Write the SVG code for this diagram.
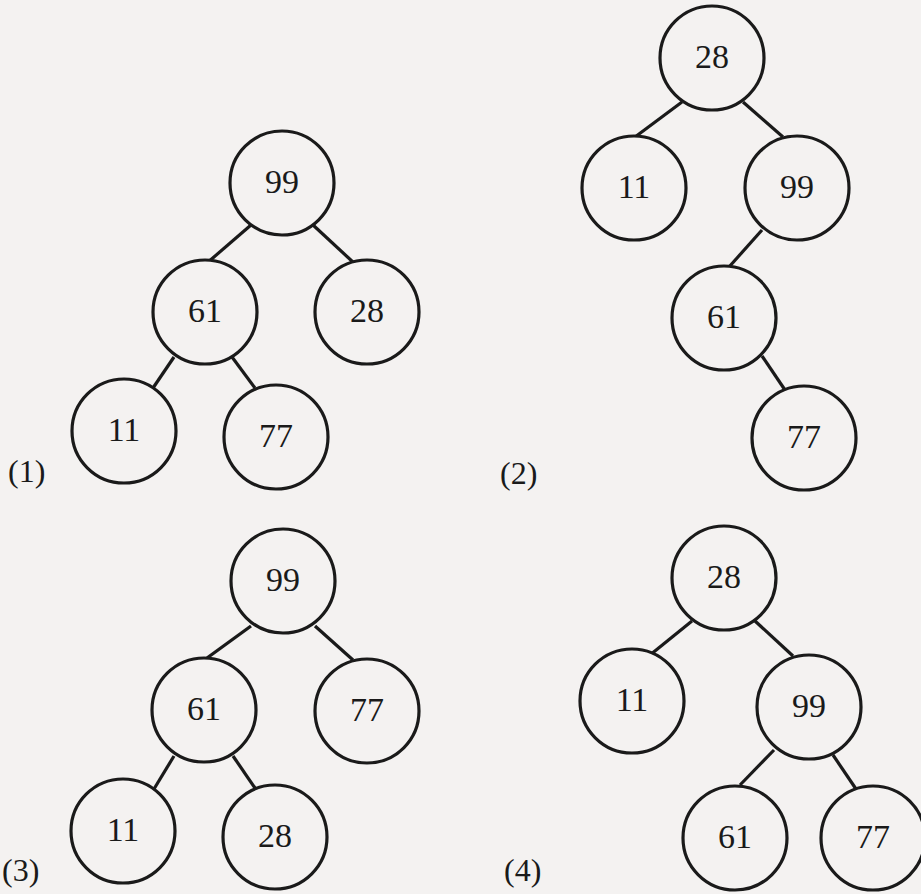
<svg xmlns="http://www.w3.org/2000/svg" width="921" height="894" viewBox="0 0 921 894" font-family="'Liberation Serif', 'DejaVu Serif', serif" font-size="34">
<style>
.bg{fill:#f4f2f1}
.n circle{fill:#f4f2f1;stroke:#1a1a1a;stroke-width:3.2}
.n text{text-anchor:middle;fill:#1a1a1a}
.lbl{fill:#1a1a1a}
.e line{stroke:#1a1a1a;stroke-width:3.2}
</style>
<rect class="bg" x="0" y="0" width="921" height="894"/>
<g id="connectors" class="e">
<line x1="251" y1="225" x2="207" y2="263"/>
<line x1="313" y1="225" x2="354" y2="263"/>
<line x1="174" y1="357" x2="153" y2="388"/>
<line x1="232" y1="357" x2="255" y2="388"/>
<line x1="682" y1="102" x2="635" y2="137"/>
<line x1="743" y1="102" x2="783" y2="137"/>
<line x1="762" y1="230" x2="729" y2="267"/>
<line x1="762" y1="356" x2="785" y2="390"/>
<line x1="251" y1="626" x2="207" y2="658"/>
<line x1="315" y1="626" x2="353" y2="660"/>
<line x1="174" y1="756" x2="154" y2="789"/>
<line x1="233" y1="756" x2="255" y2="788"/>
<line x1="692" y1="621" x2="650" y2="655"/>
<line x1="755" y1="621" x2="793" y2="656"/>
<line x1="774" y1="750" x2="740" y2="785"/>
<line x1="833" y1="755" x2="856" y2="789"/>
</g>
<g id="t1-99" class="n"><circle cx="282" cy="183" r="52"/><text x="282" y="193">99</text></g>
<g id="t1-61" class="n"><circle cx="205" cy="312" r="52"/><text x="205" y="322">61</text></g>
<g id="t1-28" class="n"><circle cx="367" cy="312" r="52"/><text x="367" y="322">28</text></g>
<g id="t1-11" class="n"><circle cx="124" cy="431" r="52"/><text x="124" y="441">11</text></g>
<g id="t1-77" class="n"><circle cx="276" cy="437" r="52"/><text x="276" y="447">77</text></g>
<g id="t2-28" class="n"><circle cx="712" cy="58" r="52"/><text x="712" y="68">28</text></g>
<g id="t2-11" class="n"><circle cx="634" cy="188" r="52"/><text x="634" y="198">11</text></g>
<g id="t2-99" class="n"><circle cx="797" cy="188" r="52"/><text x="797" y="198">99</text></g>
<g id="t2-61" class="n"><circle cx="724" cy="318" r="52"/><text x="724" y="328">61</text></g>
<g id="t2-77" class="n"><circle cx="804" cy="438" r="52"/><text x="804" y="448">77</text></g>
<g id="t3-99" class="n"><circle cx="283" cy="581" r="52"/><text x="283" y="591">99</text></g>
<g id="t3-61" class="n"><circle cx="204" cy="710" r="52"/><text x="204" y="720">61</text></g>
<g id="t3-77" class="n"><circle cx="367" cy="711" r="52"/><text x="367" y="721">77</text></g>
<g id="t3-11" class="n"><circle cx="123" cy="831" r="52"/><text x="123" y="841">11</text></g>
<g id="t3-28" class="n"><circle cx="275" cy="837" r="52"/><text x="275" y="847">28</text></g>
<g id="t4-28" class="n"><circle cx="724" cy="578" r="52"/><text x="724" y="588">28</text></g>
<g id="t4-11" class="n"><circle cx="632" cy="701" r="52"/><text x="632" y="711">11</text></g>
<g id="t4-99" class="n"><circle cx="809" cy="707" r="52"/><text x="809" y="717">99</text></g>
<g id="t4-61" class="n"><circle cx="735" cy="838" r="52"/><text x="735" y="848">61</text></g>
<g id="t4-77" class="n"><circle cx="873" cy="838" r="52"/><text x="873" y="848">77</text></g>
<text class="lbl" x="8" y="482" font-size="32">(1)</text>
<text class="lbl" x="500" y="484" font-size="32">(2)</text>
<text class="lbl" x="2" y="881" font-size="32">(3)</text>
<text class="lbl" x="504" y="881" font-size="32">(4)</text>
</svg>
